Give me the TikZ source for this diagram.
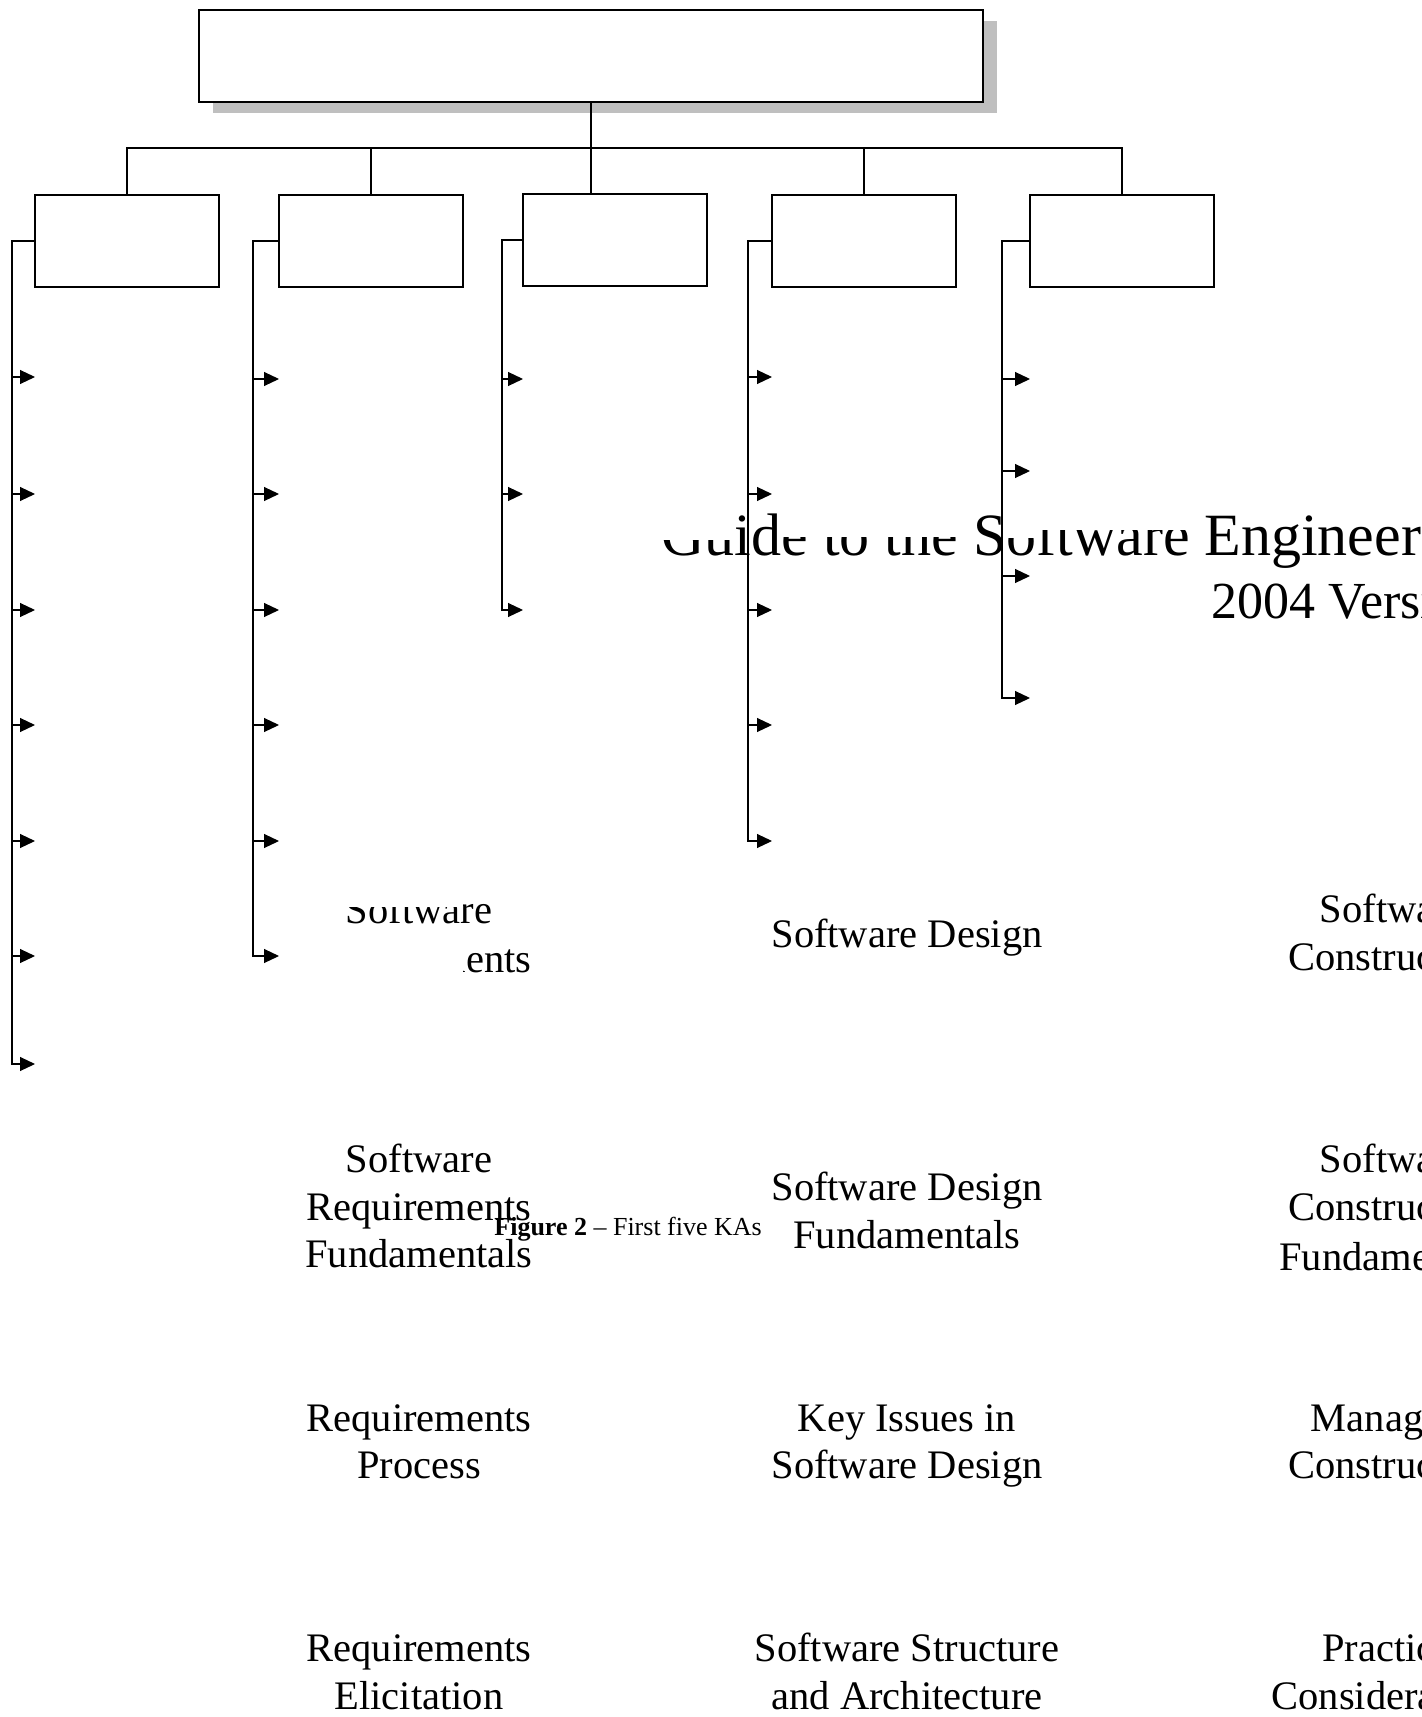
\documentclass[tikz,border=0pt]{standalone}
\usepackage{fontspec}
\setmainfont{Liberation Serif}
\usetikzlibrary{arrows.meta,shadows}
\begin{document}
\begin{tikzpicture}[x=0.5pt,y=-0.5pt,
  box/.style={draw=black, line width=1pt, fill=white, minimum width=92pt, minimum height=46pt, inner sep=0pt, outer sep=0pt},
  conn/.style={draw=black, line width=0.55pt},
  arr/.style={conn, -{Triangle[length=7.5pt,width=7pt]}},
  lbl/.style={font=\fontsize{20.25pt}{24.8pt}\selectfont, anchor=base, inner sep=0pt},
  ttl/.style={font=\fontsize{30pt}{31.5pt}\selectfont, anchor=base west, inner sep=0pt},
  ttlb/.style={font=\fontsize{26pt}{28pt}\selectfont, anchor=base west, inner sep=0pt},
  capt/.style={font=\fontsize{13pt}{15pt}\selectfont, anchor=base west, inner sep=0pt},
  mask/.style={fill=white, draw=none}]

\useasboundingbox (0,0) rectangle (1422,1717);
\clip (0,0) rectangle (1422,1717);

% ---- texts ----
\node[ttl] (t1) at (661,555) {Guide to the Software Engineering Body of Knowledge};
\node[ttlb] (t2) at (1211,618) {2004 Version};

\node[lbl] (l2a1) at (419,923) {Software};
\node[lbl] (l2a2) at (419,972) {Requirements};
\node[lbl] (l2b1) at (419,1172) {Software};
\node[lbl] (l2b2) at (419,1220) {Requirements};
\node[lbl] (l2b3) at (419,1267) {Fundamentals};
\node[lbl] (l2c1) at (419,1431) {Requirements};
\node[lbl] (l2c2) at (419,1478) {Process};
\node[lbl] (l2d1) at (419,1661) {Requirements};
\node[lbl] (l2d2) at (419,1709) {Elicitation};

\node[lbl] (l4a) at (907,947) {Software Design};
\node[lbl] (l4b1) at (907,1200) {Software Design};
\node[lbl] (l4b2) at (907,1248) {Fundamentals};
\node[lbl] (l4c1) at (907,1431) {Key Issues in};
\node[lbl] (l4c2) at (907,1478) {Software Design};
\node[lbl] (l4d1) at (907,1661) {Software Structure};
\node[lbl] (l4d2) at (907,1709) {and Architecture};

\node[lbl] (l5a1) at (1393,922) {Software};
\node[lbl] (l5a2) at (1393,970) {Construction};
\node[lbl] (l5b1) at (1393,1172) {Software};
\node[lbl] (l5b2) at (1393,1220) {Construction};
\node[lbl] (l5b3) at (1393,1270) {Fundamentals};
\node[lbl] (l5c1) at (1393,1431) {Managing};
\node[lbl] (l5c2) at (1393,1478) {Construction};
\node[lbl] (l5d1) at (1393,1661) {Practical};
\node[lbl] (l5d2) at (1393,1709) {Considerations};

\node[capt] (cap) at (494,1235) {\textbf{Figure 2} \textendash{} First five KAs};

% ---- white frames hiding parts of the texts ----
\fill[mask] (645,505) rectangle (734,540);
\fill[mask] (781,505) rectangle (962,537);
\fill[mask] (1005,505) rectangle (1036,538);
\fill[mask] (1036,505) rectangle (1195,530);
\fill[mask] (300,880) rectangle (463,907);
\fill[mask] (300,928) rectangle (463,990);

% ---- boxes ----
\node[box, line width=0.75pt, minimum width=392pt,
  drop shadow={shadow xshift=7pt, shadow yshift=-5.5pt, fill=black!25, opacity=1}] (top) at (591,56) {};
\node[box] (b1) at (127,241) {};
\node[box] (b2) at (371,241) {};
\node[box] (b3) at (615,240) {};
\node[box] (b4) at (864,241) {};
\node[box] (b5) at (1122,241) {};

% ---- tree connectors ----
\coordinate (bar) at (591,148);
\draw[line width=1pt] (top.south) -- (bar);
\draw[conn] (b1.north) -- (b1.north |- bar) -- (b5.north |- bar) -- (b5.north);
\draw[conn] (b2.north |- bar) -- (b2.north);
\draw[conn] (b4.north |- bar) -- (b4.north);
\draw[conn] (bar) -- (bar |- b3.north);

% ---- column spines ----
\coordinate (v1) at (12,0);
\coordinate (v2) at (253,0);
\coordinate (v3) at (502,0);
\coordinate (v4) at (748,0);
\coordinate (v5) at (1002,0);

\foreach \y [count=\i] in {377,494,610,725,841,956,1064} \coordinate (a1-\i) at (35,\y);
\foreach \y [count=\i] in {379,494,610,725,841,956} \coordinate (a2-\i) at (279,\y);
\foreach \y [count=\i] in {379,494,610} \coordinate (a3-\i) at (523,\y);
\foreach \y [count=\i] in {377,494,610,725,841} \coordinate (a4-\i) at (772,\y);
\foreach \y [count=\i] in {379,471,576,698} \coordinate (a5-\i) at (1030,\y);

\draw[arr] (b1.west) -| (v1 |- a1-7) -- (a1-7);
\foreach \i in {1,...,6} \draw[arr] (v1 |- a1-\i) -- (a1-\i);
\draw[arr] (b2.west) -| (v2 |- a2-6) -- (a2-6);
\foreach \i in {1,...,5} \draw[arr] (v2 |- a2-\i) -- (a2-\i);
\draw[arr] (b3.west) -| (v3 |- a3-3) -- (a3-3);
\foreach \i in {1,2} \draw[arr] (v3 |- a3-\i) -- (a3-\i);
\draw[arr] (b4.west) -| (v4 |- a4-5) -- (a4-5);
\foreach \i in {1,...,4} \draw[arr] (v4 |- a4-\i) -- (a4-\i);
\draw[arr] (b5.west) -| (v5 |- a5-4) -- (a5-4);
\foreach \i in {1,...,3} \draw[arr] (v5 |- a5-\i) -- (a5-\i);
\end{tikzpicture}
\end{document}
